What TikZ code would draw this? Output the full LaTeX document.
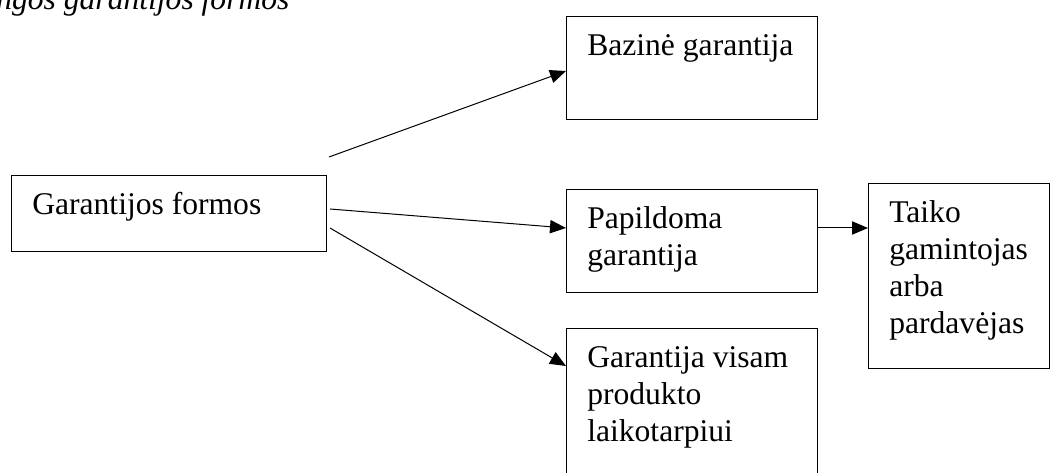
\documentclass[tikz,border=0pt]{standalone}
\usepackage{fontspec}
\setmainfont{Liberation Serif}
\usetikzlibrary{arrows.meta,calc}

\tikzset{
	blokas/.style={draw, line width=0.75pt, rectangle, anchor=north west, inner sep=0pt},
	tekstas/.style={anchor=base west, inner sep=0pt, align=left, font=\fontsize{23.7}{27.75}\selectfont},
	rodykle/.style={line width=0.75pt, -{Triangle[length=12pt, width=10pt]}}
}

\begin{document}
\begin{tikzpicture}[x=0.75pt, y=-0.75pt]
	\useasboundingbox (0,0) rectangle (1051,473);
	\clip (0,0) rectangle (1051,473);
	
	\def\tx{21} % Text indent inside a box
	\def\ty{40} % First baseline below the top of a box
	\def\ly{37} % Line spacing
	
	% Title, cut off by the page edge
	\node[tekstas, font=\fontsize{23.7}{27.75}\selectfont\itshape] (antraste) at (-4,10) {ngos garantijos formos};
	
	% Boxes
	\node[blokas, minimum width=236.25pt, minimum height=57pt] (formos) at (11,175) {};
	\node[blokas, minimum width=188.25pt, minimum height=77.25pt] (bazine) at (566,16) {};
	\node[blokas, minimum width=188.25pt, minimum height=77.25pt] (papild) at (566,189) {};
	\node[blokas, minimum width=188.25pt, minimum height=120pt] (visam) at (566,328) {};
	\node[blokas, minimum width=135.75pt, minimum height=138.75pt] (taiko) at (868,183) {};
	
	% Texts in the boxes (base = baseline of the last line)
	\node[tekstas] (formos-t) at ($(formos.north west)+(\tx,\ty)$) {Garantijos formos};
	\node[tekstas] (bazine-t) at ($(bazine.north west)+(\tx,\ty)$) {Bazinė garantija};
	\node[tekstas] (papild-t) at ($(papild.north west)+(\tx,\ty+\ly)$) {Papildoma\\garantija};
	\node[tekstas] (visam-t) at ($(visam.north west)+(\tx,\ty+2*\ly)$) {Garantija visam\\produkto\\laikotarpiui};
	\node[tekstas] (taiko-t) at ($(taiko.north west)+(\tx,\ty+3*\ly)$) {Taiko\\gamintojas\\arba\\pardavėjas};
	
	% Arrows
	\draw[rodykle] ($(formos.north east)+(2,-18)$) -- ($(bazine.north west)+(0,55)$);
	\draw[rodykle] ($(formos.north east)+(3,34)$) -- ($(papild.north west)+(0,39)$);
	\draw[rodykle] ($(formos.north east)+(3,53)$) -- ($(visam.north west)+(0,38)$);
	\draw[rodykle] ($(papild.north east)+(0,39)$) -- ($(taiko.north west)+(0,45)$);
\end{tikzpicture}
\end{document}
